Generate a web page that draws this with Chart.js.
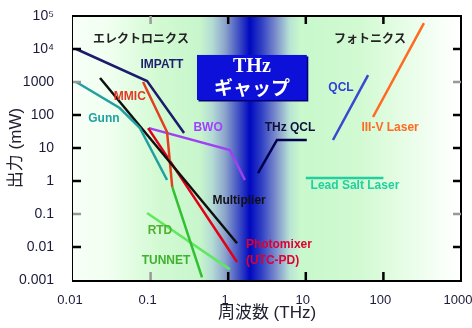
<!DOCTYPE html>
<html>
<head>
<meta charset="utf-8">
<script src="https://cdn.jsdelivr.net/npm/chart.js@4.4.1/dist/chart.umd.min.js"></script>
<style>
  body { margin: 0; background: #fff; }
</style>
</head>
<body>
<canvas id="myChart" width="472" height="328"></canvas>
<script>
// frequency (THz) / power (mW) for each device line
const impattX = [0.011, 0.09, 0.27];
const impattY = [10000, 1070, 28.5];
const gunnX = [0.011, 0.040, 0.073, 0.163];
const gunnY = [1000, 163, 40, 1.07];
const multX = [0.0223, 1.3];
const multY = [1320, 0.013];
const mmicX = [0.08, 0.163, 0.19];
const mmicY = [1000, 30.5, 0.66];
const photoX = [0.093, 1.3];
const photoY = [40, 0.0035];
const bwoX = [0.095, 1.05, 1.64];
const bwoY = [40, 8.7, 1.07];
const tunnetX = [0.19, 0.46];
const tunnetY = [0.66, 0.0012];
const rtdX = [0.09, 1.05];
const rtdY = [0.107, 0.0021];
const thzqclX = [2.42, 4.25, 10.3];
const thzqclY = [1.74, 17.5, 17.5];
const qclX = [22.4, 63.5];
const qclY = [17.5, 1620];
const laserX = [73.5, 333];
const laserY = [87, 61000];
const leadX = [10, 100];
const leadY = [1.23, 1.23];

const xTicks = [0.01, 0.1, 1, 10, 100, 1000];
const xTickLabels = ["0.01", "0.1", "1", "10", "100", "1000"];
const yTicks = [0.001, 0.01, 0.1, 1, 10, 100, 1000, 10000, 100000];
const yTickLabels = ["0.001", "0.01", "0.1", "1", "10", "100", "1000", "10\u2074", "10\u2075"];

// labels placed in data coordinates
const notes = [
  { t: "エレクトロニクス", x: 0.075, y: 21500, c: "#222222", jp: true },
  { t: "フォトニクス", x: 67, y: 21500, c: "#222222", jp: true },
  { t: "IMPATT", x: 0.14, y: 3270, c: "#1e1e6e" },
  { t: "MMIC", x: 0.054, y: 350, c: "#e03a20" },
  { t: "Gunn", x: 0.025, y: 76, c: "#20a0a0" },
  { t: "BWO", x: 0.55, y: 40, c: "#a040ff" },
  { t: "THz QCL", x: 6.25, y: 40, c: "#101040" },
  { t: "QCL", x: 28.4, y: 660, c: "#3040d0" },
  { t: "III-V Laser", x: 122, y: 40, c: "#ff6a20" },
  { t: "Lead Salt Laser", x: 43, y: 0.71, c: "#20d0a0" },
  { t: "Multiplier", x: 1.38, y: 0.25, c: "#111111" },
  { t: "Photomixer", x: 1.69, y: 0.0115, c: "#e00030", left: true },
  { t: "(UTC-PD)", x: 1.69, y: 0.0038, c: "#e00030", left: true },
  { t: "RTD", x: 0.132, y: 0.031, c: "#50b030" },
  { t: "TUNNET", x: 0.158, y: 0.0038, c: "#40b030" }
];

function pts(xs, ys) {
  return xs.map((v, i) => ({ x: v, y: ys[i] }));
}

function line(xs, ys, color) {
  return {
    data: pts(xs, ys),
    showLine: true,
    borderColor: color,
    borderWidth: 2.5,
    pointRadius: 0,
    tension: 0
  };
}

const bgPlugin = {
  id: "bg",
  beforeDatasetsDraw(chart) {
    const { ctx, chartArea, scales } = chart;
    const xs = scales.x;
    const g = ctx.createLinearGradient(chartArea.left, 0, chartArea.right, 0);
    const stops = [
      [0.01, "#f8fff8"], [0.03, "#f0fff0"], [0.13, "#d2fad2"], [0.43, "#c8f6cc"],
      [0.62, "#b4dcd4"], [0.91, "#8ca4cc"], [1.34, "#4454c4"], [1.9, "#0008c0"],
      [2.7, "#3040c4"], [4.0, "#7888cc"], [6.2, "#b8e4d4"], [8.5, "#c8f8cc"],
      [50, "#d2fad2"], [580, "#f8fff8"], [1000, "#ffffff"]
    ];
    const w = chartArea.right - chartArea.left;
    stops.forEach(s => {
      let p = (xs.getPixelForValue(s[0]) - chartArea.left) / w;
      g.addColorStop(Math.min(1, Math.max(0, p)), s[1]);
    });
    ctx.save();
    ctx.fillStyle = g;
    ctx.fillRect(chartArea.left, chartArea.top, w, chartArea.bottom - chartArea.top);
    ctx.restore();
  },
  afterDatasetsDraw(chart) {
    const { ctx, chartArea, scales } = chart;
    const xs = scales.x, ys = scales.y;
    ctx.save();

    // frame top/right
    ctx.strokeStyle = "#000";
    ctx.lineWidth = 2;
    ctx.beginPath();
    ctx.moveTo(chartArea.left, chartArea.top);
    ctx.lineTo(chartArea.right, chartArea.top);
    ctx.lineTo(chartArea.right, chartArea.bottom);
    ctx.stroke();

    // inward ticks
    ctx.lineWidth = 2.5;
    [0.1, 1, 10, 100].forEach(v => {
      const px = xs.getPixelForValue(v);
      ctx.strokeStyle = v === 0.1 ? "#999" : "#000";
      ctx.beginPath();
      ctx.moveTo(px, chartArea.bottom); ctx.lineTo(px, chartArea.bottom - 8);
      ctx.moveTo(px, chartArea.top); ctx.lineTo(px, chartArea.top + 8);
      ctx.stroke();
    });
    [0.01, 0.1, 1, 10, 100, 1000, 10000].forEach(v => {
      const py = ys.getPixelForValue(v);
      ctx.strokeStyle = (v === 0.1 || v === 1000) ? "#999" : "#000";
      ctx.beginPath();
      ctx.moveTo(chartArea.left, py); ctx.lineTo(chartArea.left + 8, py);
      ctx.moveTo(chartArea.right, py); ctx.lineTo(chartArea.right - 8, py);
      ctx.stroke();
    });

    // THz gap box
    const bx1 = xs.getPixelForValue(0.396), bx2 = xs.getPixelForValue(10.3);
    const by1 = ys.getPixelForValue(6600), by2 = ys.getPixelForValue(285);
    ctx.fillStyle = "#000070";
    ctx.fillRect(bx1 + 1.5, by1 + 1.5, bx2 - bx1, by2 - by1);
    ctx.fillStyle = "#0c10d8";
    ctx.fillRect(bx1, by1, bx2 - bx1, by2 - by1);
    ctx.fillStyle = "#fff";
    ctx.textAlign = "center";
    ctx.textBaseline = "middle";
    const bc = (bx1 + bx2) / 2;
    ctx.font = "bold 20px 'Liberation Serif', 'DejaVu Serif', serif";
    ctx.fillText("THz", bc, by1 + 12);
    ctx.font = "bold 19px 'Noto Sans CJK JP', sans-serif";
    ctx.fillText("ギャップ", bc, by1 + 33);

    // labels
    notes.forEach(n => {
      ctx.fillStyle = n.c;
      ctx.textAlign = n.left ? "left" : "center";
      ctx.font = n.jp ? "bold 12px 'Noto Sans CJK JP', sans-serif" : "bold 12px 'Liberation Sans', Arial, sans-serif";
      ctx.fillText(n.t, xs.getPixelForValue(n.x), ys.getPixelForValue(n.y));
    });
    ctx.restore();
  }
};

const ctx = document.getElementById("myChart");

new Chart(ctx, {
  type: "scatter",
  data: {
    datasets: [
      line(impattX, impattY, "#1c1c6c"),
      line(gunnX, gunnY, "#20a0a0"),
      line(multX, multY, "#101010"),
      line(mmicX, mmicY, "#e04020"),
      line(photoX, photoY, "#e00018"),
      line(bwoX, bwoY, "#a040f0"),
      line(tunnetX, tunnetY, "#30c030"),
      line(rtdX, rtdY, "#60e860"),
      line(thzqclX, thzqclY, "#000050"),
      line(qclX, qclY, "#3a48d0"),
      line(laserX, laserY, "#ff6a20"),
      line(leadX, leadY, "#20d0a0")
    ]
  },
  options: {
    responsive: false,
    devicePixelRatio: 1,
    animation: false,
    layout: { padding: { top: 16, right: 11, left: 0, bottom: 0 } },
    plugins: { legend: { display: false }, tooltip: { enabled: false } },
    scales: {
      x: {
        type: "logarithmic",
        min: 0.01,
        max: 1000,
        grid: { display: false },
        border: { display: true, color: "#000", width: 3 },
        afterBuildTicks: (s) => { s.ticks = xTicks.map(v => ({ value: v })); },
        afterFit: (s) => { s.height = 48; s.paddingLeft = 0; s.paddingRight = 0; },
        ticks: {
          autoSkip: false,
          maxRotation: 0,
          padding: 5,
          labelOffset: -3,
          color: "#1a1a3a",
          font: { family: "'Liberation Sans', Arial, sans-serif", size: 13 },
          callback: (v) => xTickLabels[xTicks.indexOf(v)]
        },
        title: {
          display: true,
          text: "周波数 (THz)",
          color: "#202030",
          padding: { top: 0, bottom: 4 },
          font: { family: "'Liberation Sans', 'Noto Sans CJK JP', sans-serif", size: 17 }
        }
      },
      y: {
        type: "logarithmic",
        min: 0.001,
        max: 100000,
        grid: { display: false },
        border: { display: true, color: "#000", width: 3 },
        afterBuildTicks: (s) => { s.ticks = yTicks.map(v => ({ value: v })); },
        afterFit: (s) => { s.width = 73; s.paddingTop = 0; s.paddingBottom = 0; },
        ticks: {
          autoSkip: false,
          padding: 11,
          color: "#1a1a3a",
          font: { family: "'Liberation Sans', Arial, sans-serif", size: 14 },
          callback: (v) => yTickLabels[yTicks.indexOf(v)]
        },
        title: {
          display: true,
          text: "出力 (mW)",
          color: "#202030",
          padding: { top: 6, bottom: 0 },
          font: { family: "'Liberation Sans', 'Noto Sans CJK JP', sans-serif", size: 17 }
        }
      }
    }
  },
  plugins: [bgPlugin]
});
</script>
</body>
</html>
